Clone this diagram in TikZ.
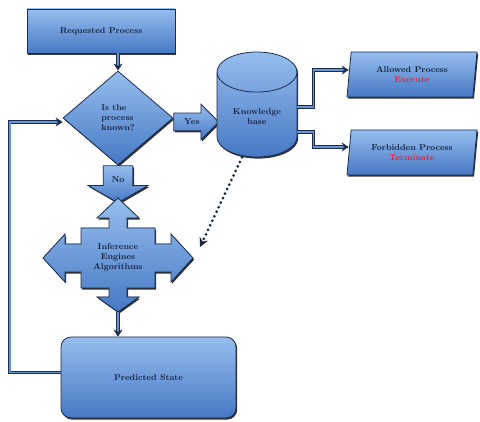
\documentclass[tikz,border=0pt]{standalone}
\usepackage{xcolor}
\usepackage{tikz}
\usetikzlibrary{positioning,shapes.geometric,shapes.arrows,shadows,arrows.meta}
\definecolor{boxtop}{RGB}{150,190,238}
\definecolor{boxbottom}{RGB}{70,120,196}
\definecolor{boxline}{RGB}{28,46,80}
\definecolor{labelnavy}{RGB}{22,36,66}
\definecolor{labelred}{RGB}{222,36,60}
\tikzset{
  label text/.style={
    text=labelnavy,
    font=\bfseries\fontsize{8.5}{10}\selectfont,
    align=center,
    inner sep=1pt,
  },
  blue shape/.style={
    label text,
    draw=boxline,
    line width=0.8pt,
    top color=boxtop,
    bottom color=boxbottom,
    drop shadow={shadow xshift=1.2pt, shadow yshift=-1.6pt, fill=black, opacity=0.8},
  },
  process box/.style={
    blue shape,
    minimum width={#1},
    minimum height={44pt},
  },
  decision/.style={
    blue shape,
    diamond,
    align=left,
    minimum width={110pt},
    minimum height={94pt},
  },
  block arrow/.style={
    blue shape,
    single arrow,
    anchor=tail,
  },
  slanted box/.style={
    blue shape,
    trapezium,
    trapezium left angle=77,
    trapezium right angle=103,
    trapezium stretches body,
    minimum width={130pt},
    minimum height={45pt},
  },
  link/.style={
    draw=boxline,
    line width=0.8pt,
    double=boxbottom!80!white,
    double distance=1.8pt,
    -{Stealth[length=7pt, width=9pt]},
  },
  hint link/.style={
    draw=boxline!80!black,
    line width=3pt,
    line cap=round,
    dash pattern=on 0pt off 5pt,
    -{Stealth[length=9pt, width=9pt]},
  },
}

\begin{document}
\begin{tikzpicture}[x=1pt, y=-1pt]
    \useasboundingbox (0,0) rectangle (480,422);
    \fill [white] (0,0) rectangle (480,422);

    \node [process box=148pt] (req) at (101,31) {Requested Process};
    \node [decision] (known) at (118,118) {Is the\\process\\known?};
    \node [block arrow, minimum height=45pt, text height=6pt, text depth=1pt,
           inner ysep=5pt, single arrow head extend=9pt] (yes) at ([yshift=-4pt]known.east) {Yes};
    \node [blue shape, cylinder, shape border rotate=90, aspect=0.8, anchor=shape center,
           minimum width=80pt, minimum height=105pt] (kb) at (257,104.5) {Knowledge\\base};
    \node [slanted box] (allowed) at (412,74.5) {Allowed Process\\\textcolor{labelred}{Execute}};
    \node [slanted box] (forbidden) at (412,152.5) {Forbidden Process\\\textcolor{labelred}{Terminate}};
    \node [block arrow, shape border rotate=270, minimum height=37pt, inner xsep=8pt,
           single arrow head extend=15pt, single arrow tip angle=120] (no) at (known.south) {No};

    % four way arrow
    \coordinate (infer centre) at (118,258);
    \filldraw [blue shape, shift={(infer centre)}]
        (0,-60) -- (21,-40) -- (9,-40) -- (9,-30) -- (37,-30) -- (37,-14) -- (53,-14)
        -- (53,-24) -- (75,0) -- (53,24) -- (53,14) -- (37,14) -- (37,30) -- (9,30)
        -- (9,39) -- (21,39) -- (0,54) -- (-21,39) -- (-9,39) -- (-9,30) -- (-37,30)
        -- (-37,14) -- (-53,14) -- (-53,24) -- (-75,0) -- (-53,-24) -- (-53,-14)
        -- (-37,-14) -- (-37,-30) -- (-9,-30) -- (-9,-40) -- (-21,-40) -- cycle;
    \node [label text] (infer) at ([yshift=1pt]infer centre) {Inference\\Engines\\Algorithms};
    \coordinate (infer bottom) at ([yshift=-54pt]infer centre);
    \coordinate (infer right) at ([shift={(82pt,11pt)}]infer centre);

    \node [process box=175pt, minimum height=81pt, rounded corners=10pt] (pred) at (148.5,377.5) {Predicted State};

    \draw [link] (req.south -| known.north) -- (known.north);
    \draw [link] ([yshift=10pt]kb.east) -- ++(16,0) |- ([yshift=4.5pt]allowed.west);
    \draw [link] ([yshift=-15pt]kb.east) -- ++(16,0) |- ([yshift=5.5pt]forbidden.west);
    \draw [link] (infer bottom) -- (infer bottom |- pred.north);
    \draw [link] ([yshift=5pt]pred.west) -- ++(-51,0) |- ([yshift=-4pt]known.west);
    \draw [hint link] ([xshift=-15pt]kb.south) -- (infer right);
\end{tikzpicture}
\end{document}
